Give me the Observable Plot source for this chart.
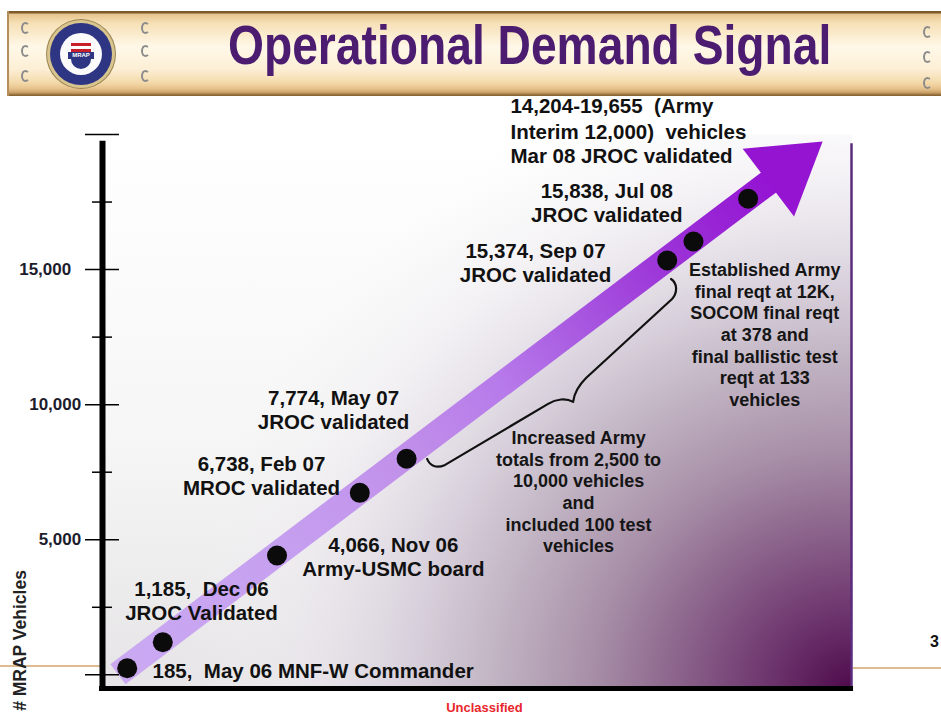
<!DOCTYPE html>
<html>
<head>
<meta charset="utf-8">
<script src="https://cdn.jsdelivr.net/npm/d3@7"></script>
<script src="https://cdn.jsdelivr.net/npm/@observablehq/plot@0.6"></script>
<style>
html, body { margin: 0; padding: 0; background: #fff; }
body { width: 941px; height: 715px; position: relative; overflow: hidden; font-family: "Liberation Sans", Arial, sans-serif; }
#header { position: relative; width: 941px; height: 96px; }
.banner { position: absolute; left: 7px; top: 11px; width: 934px; height: 85px;
  background: linear-gradient(to bottom, #7d5a2c 0px, #7d5a2c 2px, #e6c48c 3px, #f6e0b6 12px, #fff8e8 36px, #fcefd6 58px, #f3d9a9 72px, #e9c58f 77px, #d7b079 80px, #c39a60 82px, #8a6634 84px, #8a6634 85px);
  border-left: 2px solid #b48f5c; }
.logo { position: absolute; left: 47px; top: 20px; width: 68px; height: 68px; border-radius: 50%;
  background: #d8c48e; box-shadow: 0 0 0 1px #9b8450; }
.logo .ring { position: absolute; left: 3px; top: 3px; width: 62px; height: 62px; border-radius: 50%; background: #2e3582; }
.logo .inner { position: absolute; left: 13px; top: 13px; width: 42px; height: 42px; border-radius: 50%; background: #fbfbfb; overflow: hidden; }
.logo .shield { position: absolute; left: 11px; top: 10px; width: 20px; height: 20px; background: repeating-linear-gradient(to bottom, #c8202a 0 3px, #ffffff 3px 6px); border-radius: 0 0 10px 10px; }
.logo .navy { position: absolute; left: 11px; top: 24px; width: 20px; height: 12px; background: #2e3582; border-radius: 0 0 10px 10px; }
.logo .word { position: absolute; left: 8px; top: 19px; width: 26px; font: bold 6px "Liberation Sans", Arial, sans-serif; color: #fff; background: #2e3582; text-align: center; line-height: 7px; }
.rv { position: absolute; width: 5px; height: 8px; border: 2px solid #8c8c8c; border-right-color: transparent; border-radius: 50%; }
.title { position: absolute; left: 228px; top: 17px; font: bold 56px "Liberation Sans", Arial, sans-serif; line-height: 1;
  color: #4b1c6f; white-space: nowrap; transform: scaleX(0.825); transform-origin: 0 0; }
.tan { position: absolute; height: 2px; background: #dcbc90; }
.pagenum { position: absolute; left: 930px; top: 633px; font: bold 16px "Liberation Sans", Arial, sans-serif; color: #111; }
#chart { position: relative; z-index: 1; }
#chart svg { display: block; }
</style>
</head>
<body>
<div id="header">
  <div class="banner"></div>
  <div class="logo"><div class="ring"></div><div class="inner"><div class="shield"></div><div class="navy"></div><div class="word">MRAP</div></div></div>
  <span class="rv" style="left:21px;top:22px"></span>
  <span class="rv" style="left:21px;top:45px"></span>
  <span class="rv" style="left:21px;top:70px"></span>
  <span class="rv" style="left:141px;top:22px"></span>
  <span class="rv" style="left:141px;top:45px"></span>
  <span class="rv" style="left:141px;top:70px"></span>
  <span class="rv" style="left:923px;top:26px"></span>
  <span class="rv" style="left:923px;top:51px"></span>
  <span class="rv" style="left:923px;top:77px"></span>
  <div class="title">Operational Demand Signal</div>
</div>
<div class="tan" style="left:0;top:665px;width:100px"></div>
<div class="tan" style="left:853px;top:667px;width:88px"></div>
<div class="pagenum">3</div>
<div id="chart"></div>
<script>
// ---- data ----
const milestones = ["May 06", "Dec 06", "Nov 06", "Feb 07", "May 07", "Sep 07", "Jul 08", "Mar 08"];
const position = [3.3, 8.05, 23.3, 34.35, 40.6, 75.4, 78.9, 86.2];   // place along the arrow (0–100)
const vehicles = [245, 1205, 4415, 6735, 8000, 15335, 16040, 17620]; // # MRAP vehicles (y)
const pointLabels = [
  "185,\u00a0 May 06 MNF-W Commander",
  "1,185,\u00a0 Dec 06\nJROC Validated",
  "4,066, Nov 06\nArmy-USMC board",
  "6,738, Feb 07\nMROC validated",
  "7,774, May 07\nJROC validated",
  "15,374, Sep 07\nJROC validated",
  "15,838, Jul 08\nJROC validated",
  "14,204-19,655\u00a0 (Army\nInterim 12,000)\u00a0 vehicles\nMar 08 JROC validated"
];
const notes = [
  "Increased Army\ntotals from 2,500 to\n10,000 vehicles\nand\nincluded 100 test\nvehicles",
  "Established Army\nfinal reqt at 12K,\nSOCOM final reqt\nat 378 and\nfinal ballistic test\nreqt at 133\nvehicles"
];
const majorTicks = [0, 5000, 10000, 15000, 20000];
const minorTicks = [2500, 7500, 12500, 17500];
const tickLabelsLow = [5000, 10000];
const tickLabelsHigh = [15000];
const yLabel = "# MRAP Vehicles";
const footer = "Unclassified";

// ---- layout (offsets of labels from their point, in px) ----
const labelLayout = [
  {dx: 25.3, dy: 2.3, anchor: "start"},
  {dx: 38.7, dy: -41.7, anchor: "middle"},
  {dx: 116.3, dy: 1, anchor: "middle"},
  {dx: -98.3, dy: -17.8, anchor: "middle"},
  {dx: -73, dy: -49.3, anchor: "middle"},
  {dx: -131.7, dy: 1.5, anchor: "middle"},
  {dx: -86.7, dy: -39, anchor: "middle"},
  {dx: -237.7, dy: -68.3, anchor: "start", lineHeight: 1.22}
];
const noteLayout = [
  {at: 4, dx: 172, dy: 32.5},
  {at: 6, dx: 71.3, dy: 92.5}
];

const idx = d3.range(position.length);

function gradients() {
  const g = d3.create("svg:g");
  const defs = g.append("defs");
  const base = defs.append("linearGradient").attr("id", "baseGrad").attr("x1", 0).attr("y1", 0).attr("x2", 0).attr("y2", 1);
  [[0, "#ffffff"], [0.55, "#f6f6f6"], [1, "#e6e4e6"]].forEach(([o, c]) =>
    base.append("stop").attr("offset", o).attr("stop-color", c));
  const plum = defs.append("radialGradient").attr("id", "plumGrad")
    .attr("cx", 1).attr("cy", 1).attr("r", 1).attr("fx", 1).attr("fy", 1)
    .attr("gradientTransform", "translate(1,1) scale(1,1.25) translate(-1,-1)");
  [[0, "#4e0a4c", 1], [0.13, "#723c72", 1], [0.25, "#8f6a8f", 1], [0.35, "#a890a8", 1],
   [0.5, "#c6bac8", 1], [0.6, "#d8d0dc", 0.9], [0.75, "#ece8ee", 0.5], [0.9, "#f4f2f4", 0]].forEach(([o, c, a]) =>
    plum.append("stop").attr("offset", o).attr("stop-color", c).attr("stop-opacity", a));
  return g.node();
}

function arrowMark(index, scales) {
  const X = position.map(v => scales.x(v)), Y = vehicles.map(v => scales.y(v));
  const last = X.length - 1;
  let ux = X[last] - X[0], uy = Y[last] - Y[0];
  const L = Math.hypot(ux, uy); ux /= L; uy /= L;
  const nx = -uy, ny = ux;
  const sx = X[0] - 11 * ux, sy = Y[0] - 11 * uy;
  const bx = X[last] + 26 * ux, by = Y[last] + 26 * uy;
  const tx = bx + 68 * ux, ty = by + 68 * uy;
  const w = 12.5, hw = 42.6;
  const g = d3.create("svg:g");
  const lg = g.append("defs").append("linearGradient").attr("id", "shaftGrad")
    .attr("gradientUnits", "userSpaceOnUse").attr("x1", sx).attr("y1", sy).attr("x2", bx).attr("y2", by);
  [[0, "#cba9f2"], [0.25, "#c6a0f0"], [0.44, "#c190ea"], [0.59, "#b77aea"], [0.71, "#a858e0"], [0.84, "#9c34d8"], [1, "#9414d2"]]
    .forEach(([o, c]) => lg.append("stop").attr("offset", o).attr("stop-color", c));
  const ex = bx + 2 * ux, ey = by + 2 * uy;
  g.append("path")
    .attr("d", `M${sx + nx * w},${sy + ny * w}L${ex + nx * w},${ey + ny * w}L${ex - nx * w},${ey - ny * w}L${sx - nx * w},${sy - ny * w}Z`)
    .attr("fill", "url(#shaftGrad)");
  g.append("path")
    .attr("d", `M${bx + nx * hw},${by + ny * hw}L${tx},${ty}L${bx - nx * hw},${by - ny * hw}Z`)
    .attr("fill", "#9414d2");
  return g.node();
}

function braceMark(index, scales) {
  const x5 = scales.x(position[4]), y5 = scales.y(vehicles[4]);
  const x6 = scales.x(position[5]), y6 = scales.y(vehicles[5]);
  const p = (x, y) => `${x},${y}`;
  const d = `M${p(x5 + 21, y5 + 0.7)}` +
    `C${p(x5 + 24, y5 + 7.7)} ${p(x5 + 30, y5 + 10.7)} ${p(x5 + 39, y5 + 6.7)}` +
    `L${p(x5 + 142, y5 - 54.3)}` +
    `C${p(x5 + 150, y5 - 59.3)} ${p(x5 + 160, y5 - 60.3)} ${p(x5 + 167, y5 - 56.3)}` +
    `C${p(x6 - 92.7, y6 + 134)} ${p(x6 - 88.7, y6 + 126)} ${p(x6 - 80.7, y6 + 118)}` +
    `L${p(x6 + 5.3, y6 + 39)}` +
    `C${p(x6 + 11.3, y6 + 32)} ${p(x6 + 10.3, y6 + 23)} ${p(x6 + 4.3, y6 + 19)}`;
  const g = d3.create("svg:g");
  g.append("path").attr("d", d).attr("fill", "none").attr("stroke", "#111").attr("stroke-width", 2.2)
    .attr("stroke-linecap", "round").attr("stroke-linejoin", "round");
  return g.node();
}

const font = '"Liberation Sans", Arial, sans-serif';

const chart = Plot.plot({
  width: 941,
  height: 619,
  marginLeft: 102,
  marginRight: 90,
  marginTop: 38,
  marginBottom: 25,
  x: {domain: [0, 100], axis: null},
  y: {domain: [-580, 20000], axis: null},
  style: {fontFamily: font, background: "transparent", overflow: "visible", color: "#111"},
  marks: [
    gradients,
    Plot.frame({fill: "url(#baseGrad)", stroke: "none"}),
    Plot.frame({fill: "url(#plumGrad)", stroke: "none"}),
    arrowMark,
    braceMark,
    Plot.dot(idx, {x: i => position[i], y: i => vehicles[i], r: 10, fill: "#0b0b0b", stroke: "none"}),
    Plot.ruleX([0], {y1: -580, y2: 19750, stroke: "#000", strokeWidth: 6}),
    Plot.ruleX([100], {y1: -580, y2: 19660, stroke: "#5b2b7c", strokeWidth: 2.5}),
    Plot.axisY({ticks: majorTicks, tickSize: 34, dx: 17, tickFormat: () => "", stroke: "#000", strokeWidth: 1.5, label: null}),
    Plot.axisY({ticks: minorTicks, tickSize: 20, dx: 10, tickFormat: () => "", stroke: "#000", strokeWidth: 1.5, label: null}),
    Plot.axisY({ticks: tickLabelsLow, tickSize: 0, tickPadding: 21.3, tickFormat: d3.format(","), fontSize: 17, fontWeight: "bold", fill: "#1c1c2c", label: null}),
    Plot.axisY({ticks: tickLabelsHigh, tickSize: 0, tickPadding: 31.3, tickFormat: d3.format(","), fontSize: 17, fontWeight: "bold", fill: "#1c1c2c", label: null}),
    Plot.ruleY([-580], {dy: -2, x1: -0.4, x2: 100.27, stroke: "#000", strokeWidth: 5}),
    ...pointLabels.map((t, i) => Plot.text([i], {
      x: j => position[j], y: j => vehicles[j], text: j => pointLabels[j],
      dx: labelLayout[i].dx, dy: labelLayout[i].dy, textAnchor: labelLayout[i].anchor,
      lineHeight: labelLayout[i].lineHeight ?? 1.18, fontSize: 20.5, fontWeight: "bold", fill: "#111"
    })),
    ...notes.map((t, k) => Plot.text([noteLayout[k].at], {
      x: j => position[j], y: j => vehicles[j], text: () => notes[k],
      dx: noteLayout[k].dx, dy: noteLayout[k].dy, textAnchor: "middle",
      lineHeight: 1.205, fontSize: 18, fontWeight: "bold", fill: "#151515"
    })),
    Plot.text([yLabel], {frameAnchor: "bottom-left", text: d => d, rotate: -90, textAnchor: "middle", lineAnchor: "middle",
      dx: -82, dy: -50, fontSize: 17.5, fontWeight: "bold", fill: "#222"}),
    Plot.text([footer], {frameAnchor: "bottom", text: d => d, textAnchor: "middle", lineAnchor: "middle",
      dx: 7.5, dy: 17, fontSize: 13, fontWeight: "bold", fill: "#e8262b"})
  ]
});
document.getElementById("chart").appendChild(chart);
</script>
</body>
</html>
